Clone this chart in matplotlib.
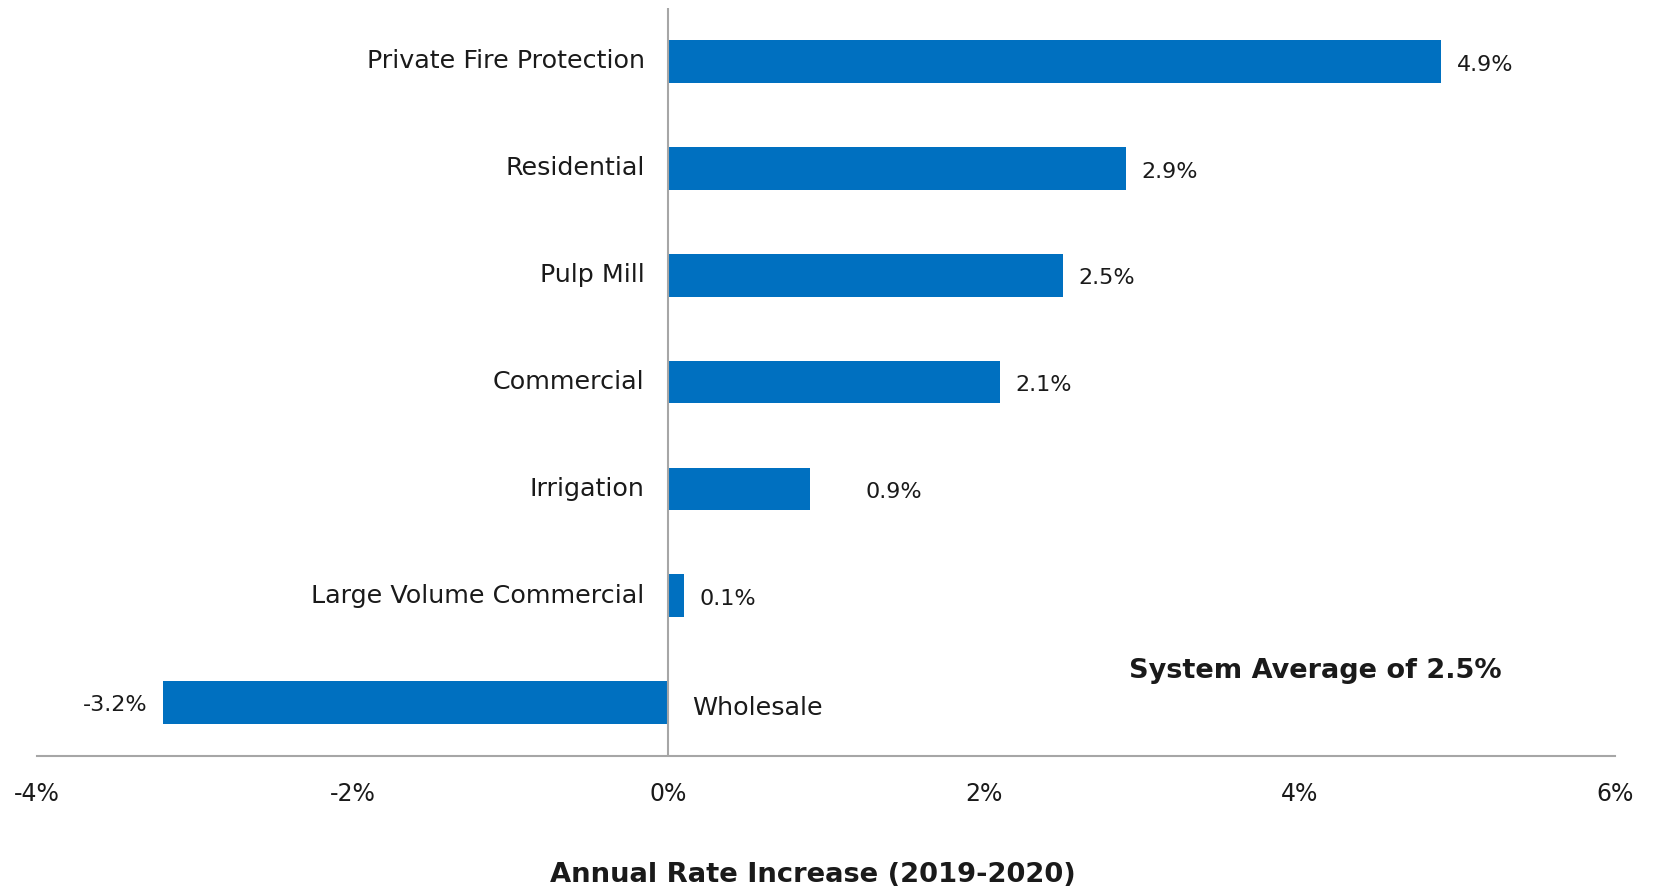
import matplotlib.pyplot as plt
from matplotlib.ticker import FuncFormatter

# Annual rate increase by customer class (%)
categories = ["Wholesale", "Large Volume Commercial", "Irrigation", "Commercial",
              "Pulp Mill", "Residential", "Private Fire Protection"]
increases = [-3.2, 0.1, 0.9, 2.1, 2.5, 2.9, 4.9]
system_average = 2.5

plt.rcParams['font.family'] = ['DejaVu Sans']

BLUE = "#0070C0"
GRAY = "#A6A6A6"
INK = "#1a1a1a"


def main():
    fig = plt.figure(figsize=(16.53, 8.93), dpi=100)
    ax = fig.add_axes([0.0224, 0.1534, 0.9546, 0.8376])

    ypos = list(range(len(categories)))
    ax.barh(ypos, increases, height=0.4, color=BLUE, zorder=2)

    ax.set_xlim(-4, 6)
    ax.set_ylim(-0.5, 6.5)
    ax.set_xticks([-4, -2, 0, 2, 4, 6])
    ax.xaxis.set_major_formatter(FuncFormatter(lambda v, p: f"{v:.0f}%"))
    ax.tick_params(axis='x', length=0, pad=19, labelsize=17, colors=INK)
    ax.set_yticks([])

    for side in ["top", "right", "left"]:
        ax.spines[side].set_visible(False)
    ax.spines["bottom"].set_color(GRAY)
    ax.spines["bottom"].set_linewidth(1.5)
    ax.axvline(0, color=GRAY, lw=1.5, zorder=3)

    # category names sit left of the zero line, except the negative bar
    for y, name, val in zip(ypos, categories, increases):
        if val < 0:
            ax.text(0.15, y - 0.05, name, ha="left", va="center", fontsize=18.3,
                    color=INK)
            ax.text(val - 0.1, y - 0.02, f"{val:.1f}%", ha="right", va="center",
                    fontsize=16, color=INK)
        else:
            ax.text(-0.15, y, name, ha="right", va="center", fontsize=18.3,
                    color=INK)
            off = 0.35 if name == "Irrigation" else 0.1
            ax.text(val + off, y - 0.03, f"{val:.1f}%", ha="left", va="center",
                    fontsize=16, color=INK)

    ax.text(4.1, 0.3, f"System Average of {system_average:.1f}%", ha="center",
            va="center", fontsize=19.5, fontweight="bold", color=INK)

    fig.text(0.492, 0.02, "Annual Rate Increase (2019-2020)", ha="center",
             va="center", fontsize=19.7, fontweight="bold", color=INK)

    fig.savefig("out.png", dpi=100)


if __name__ == "__main__":
    main()
